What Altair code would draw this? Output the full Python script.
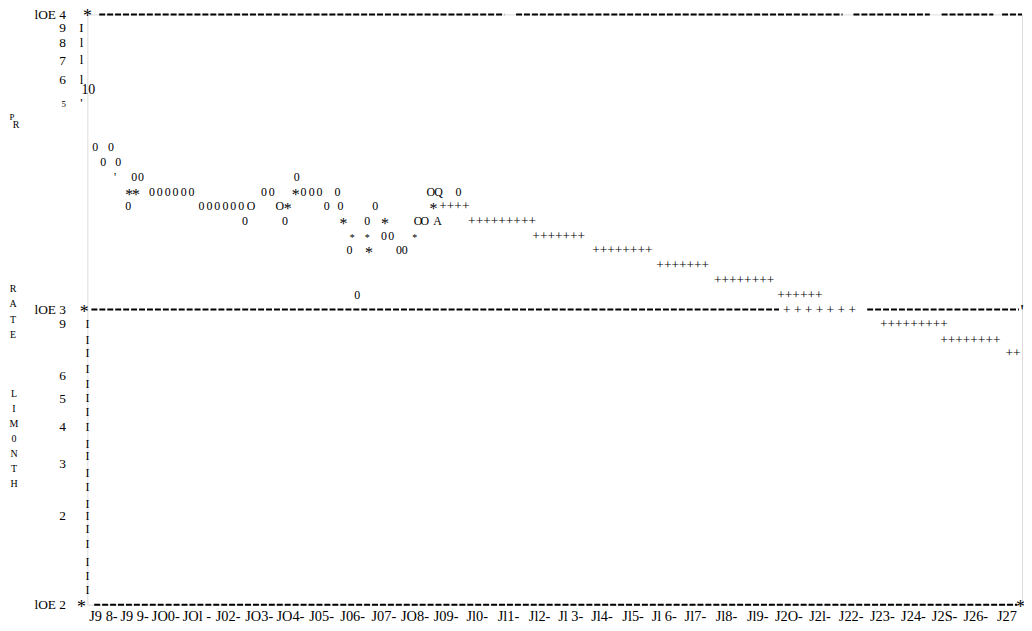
import json
import altair as alt
import pandas as pd

# ---------------- axis labels ----------------
x_years = list(range(1998, 2028))
x_labels = ["J9 8-", "J9 9-", "JO0-", "JOl -", "J02-", "JO3-", "JO4-", "J05-", "J06-", "J07-",
            "JO8-", "J09-", "Jl0-", "Jl1-", "Jl2-", "Jl 3-", "Jl4-", "Jl5-", "Jl 6-", "Jl7-",
            "Jl8-", "Jl9-", "J2O-", "J2l-", "J22-", "J23-", "J24-", "J2S-", "J26-", "J27"]
y_ticks = [100, 200, 300, 400, 500, 600, 900, 1000, 5000, 6000, 7000, 8000, 9000, 10000]
y_labels = ["lOE 2", "2", "3", "4", "5", "6", "9", "lOE 3", "5", "6", "7", "8", "9", "lOE 4"]

# ---------------- observed history ("0" glyphs) ----------------
obs_year = [1997.75, 1998.26,
            1998.01, 1998.49,
            1999.00, 1999.22, 2004.22,
            1999.57, 1999.82, 2000.08, 2000.33, 2000.59, 2000.84, 2003.17, 2003.42,
            2004.44, 2004.70, 2004.95, 2005.53, 2009.41,
            1998.81, 2001.16, 2001.42, 2001.67, 2001.93, 2002.18, 2002.44, 2005.18, 2005.62, 2006.74,
            2002.56, 2003.84, 2006.48,
            2007.02, 2007.25,
            2005.91, 2007.50, 2007.69,
            2006.16]
obs_rate = [3550, 3550,
            3160, 3160,
            2820, 2820, 2820,
            2510, 2510, 2510, 2510, 2510, 2510, 2510, 2510,
            2510, 2510, 2510, 2510, 2510,
            2240, 2240, 2240, 2240, 2240, 2240, 2240, 2240, 2240, 2240,
            2000, 2000, 2000,
            1780, 1780,
            1590, 1590, 1590,
            1120]

# other printed characters among the history
char_text = ["O", "O", "O", "Q", "O", "O", "A", "'"]
char_year = [2002.75, 2003.68, 2008.52, 2008.77, 2008.11, 2008.33, 2008.74, 1998.39]
char_rate = [2240, 2240, 2510, 2510, 2000, 2000, 2000, 2820]

# "*" markers
star_year = [1998.84, 1999.06, 2004.19, 2003.93, 2008.61, 2005.72, 2007.05, 2006.54]
star_rate = [2510, 2510, 2510, 2240, 2240, 2000, 2000, 1590]
small_star_year = [2006.00, 2006.48, 2008.01]
small_star_rate = [1780, 1780, 1780]

# ---------------- forecast ("+" runs) ----------------
fc_text = ["++++", "+++++++++", "+++++++", "++++++++", "+++++++", "++++++++", "++++++",
           "+ + + + + + +", "+++++++++", "++++++++", "++"]
fc_year = [2009.28, 2010.81, 2012.63, 2014.67, 2016.61, 2018.58, 2020.37,
           2021.00, 2024.03, 2025.84, 2027.21]
fc_rate = [2240, 2000, 1780, 1590, 1410, 1260, 1120, 1000, 890, 790, 710]

# ---------------- frame (printed dashed lines) ----------------
seg_start = [1997.88, 2011.26, 2022.09, 2024.92, 2026.86, 1997.63, 2022.53, 1997.72]
seg_end = [2010.88, 2021.74, 2024.54, 2026.58, 2027.50, 2019.70, 2027.40, 2027.34]
seg_rate = [10000, 10000, 10000, 10000, 10000, 1000, 1000, 100]

corner_text = ["*", "*", "*", "*", "'"]
corner_year = [1997.50, 1997.40, 1997.31, 2027.45, 2027.50]
corner_rate = [10000, 1000, 100, 100, 1000]

# printed axis column rows
upper_rows_text = ["I", "l", "l", "l", "'"]
upper_rows_rate = [9000, 8000, 7000, 6000, 5000]
lower_rows_rate = [890, 790, 710, 630, 560, 500, 450, 400, 350, 320, 280, 250, 220,
                   200, 180, 160, 140, 125, 112]

SERIF = "Liberation Serif"
XS = alt.Scale(domain=[1997.5, 2027.5], nice=False, zero=False)
YS = alt.Scale(type="log", domain=[100, 10000], nice=False)

x_expr = f"{json.dumps(x_labels)}[datum.value - 1998]"
y_expr = f"{json.dumps(y_labels)}[indexof({json.dumps(y_ticks)}, datum.value)]"

X_AXIS = alt.Axis(
    values=x_years, labelExpr=x_expr, title=None, domain=False, ticks=False, grid=False,
    labelFont=SERIF, labelFontSize=14.5, labelColor="black", labelPadding=5,
    labelOverlap=False, labelFlush=False, labelAngle=0)
Y_AXIS = alt.Axis(
    values=y_ticks, labelExpr=y_expr, title=None, domain=False, ticks=False, grid=False,
    labelFont=SERIF, labelColor="black", labelPadding=22,
    labelFontSize=alt.condition("datum.value == 5000", alt.value(9), alt.value(13.5)),
    labelOverlap=False, labelFlush=False)


def glyph_layer(df, size, dy=0, **kw):
    return alt.Chart(df).mark_text(
        font=SERIF, fontSize=size, color="black", baseline="middle", align="center", dy=dy, **kw
    ).encode(
        x=alt.X("year:Q", scale=XS, axis=X_AXIS),
        y=alt.Y("rate:Q", scale=YS, axis=Y_AXIS),
        text=alt.Text("t:N"),
    )


seg_df = pd.DataFrame({"start": seg_start, "end": seg_end, "rate": seg_rate})

rules = alt.Chart(seg_df).mark_rule(color="black", strokeWidth=2, strokeDash=[6, 2]).encode(
    x=alt.X("start:Q", scale=XS, axis=X_AXIS),
    x2="end:Q",
    y=alt.Y("rate:Q", scale=YS, axis=Y_AXIS),
)

obs = glyph_layer(pd.DataFrame({"year": obs_year, "rate": obs_rate, "t": ["0"] * len(obs_year)}), 12)
chars = glyph_layer(pd.DataFrame({"year": char_year, "rate": char_rate, "t": char_text}), 12)
stars = glyph_layer(pd.DataFrame({"year": star_year, "rate": star_rate, "t": ["*"] * len(star_year)}), 16, dy=3)
small_stars = glyph_layer(pd.DataFrame({"year": small_star_year, "rate": small_star_rate,
                                        "t": ["*"] * len(small_star_year)}), 10, dy=2)
fc = glyph_layer(pd.DataFrame({"year": fc_year, "rate": fc_rate, "t": fc_text}), 13.5)
corners = glyph_layer(pd.DataFrame({"year": corner_year, "rate": corner_rate, "t": corner_text}), 18, dy=3)

upper_col = alt.Chart(pd.DataFrame({"rate": upper_rows_rate, "t": upper_rows_text})).mark_text(
    font=SERIF, fontSize=13, color="black", baseline="middle", align="center"
).encode(x=alt.value(-6), y=alt.Y("rate:Q", scale=YS, axis=Y_AXIS), text="t:N")
lower_col = alt.Chart(pd.DataFrame({"rate": lower_rows_rate, "t": ["I"] * len(lower_rows_rate)})).mark_text(
    font=SERIF, fontSize=12, color="black", baseline="middle", align="center"
).encode(x=alt.value(0), y=alt.Y("rate:Q", scale=YS, axis=Y_AXIS), text="t:N")

one = pd.DataFrame({"a": [0]})


def free_text(text, x, y, size=11, line_height=15.3, style="normal"):
    return alt.Chart(one).mark_text(
        text=text, font=SERIF, fontSize=size, color="black", baseline="middle", align="center",
        lineHeight=line_height, fontStyle=style
    ).encode(x=alt.value(x), y=alt.value(y))


title_layers = [
    free_text("P", -76, 103, size=9),
    free_text("R", -72, 112, size=10),
    free_text(["R", "A", "T", "E"], -75, 277, size=10),
    free_text(["L", "I", "M", "0", "N", "T", "H"], -74, 383, size=10, line_height=15),
    free_text("10", 1, 76, size=14),
]

chart = alt.layer(
    rules, obs, chars, stars, small_stars, fc, corners, upper_col, lower_col, *title_layers
).properties(
    width=942, height=595,
    autosize=alt.AutoSizeParams(type="none"),
    padding={"left": 80, "top": 4, "right": 2, "bottom": 20},
).configure_view(stroke=None).configure(background="white")

chart.save("out.html", embed_options={"renderer": "svg", "actions": False})
